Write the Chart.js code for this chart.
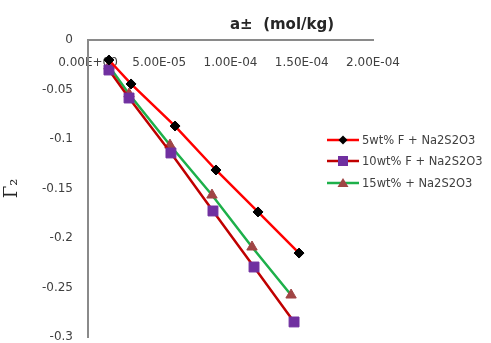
<!DOCTYPE html>
<html>
<head>
<meta charset="utf-8">
<script src="https://cdn.jsdelivr.net/npm/chart.js@4.4.1/dist/chart.umd.min.js"></script>
<style>
  html, body { margin:0; padding:0; background:#fff; }
  #wrap { position:relative; width:491px; height:343px; }
  #c { position:absolute; left:0; top:0; }
  #xtitle { position:absolute; left:230px; top:15px; font:bold 15px "DejaVu Sans", sans-serif; color:#262626; white-space:pre; }
  #legend { position:absolute; left:327px; top:129px; font:11.5px "DejaVu Sans", sans-serif; color:#404040; }
  .row { height:21.5px; display:flex; align-items:center; white-space:pre; }
  .row svg { margin-right:3px; }
</style>
</head>
<body>
<div id="wrap">
  <canvas id="c" width="491" height="343"></canvas>
  <div id="xtitle">a±  (mol/kg)</div>
  <div id="legend"></div>
</div>
<script>
// ---- data ----
const seriesNames = ['5wt% F + Na2S2O3', '10wt% F + Na2S2O3', '15wt% + Na2S2O3'];
const s1x = [1.47e-5, 3.02e-5, 6.11e-5, 8.98e-5, 1.193e-4, 1.481e-4];
const s1y = [-0.0202, -0.0444, -0.0869, -0.1313, -0.1737, -0.2152];
const s2x = [1.47e-5, 2.88e-5, 5.82e-5, 8.77e-5, 1.165e-4, 1.446e-4];
const s2y = [-0.0303, -0.0586, -0.1141, -0.1727, -0.2293, -0.2848];
const s3x = [1.47e-5, 2.88e-5, 5.75e-5, 8.70e-5, 1.151e-4, 1.425e-4];
const s3y = [-0.0263, -0.0545, -0.1061, -0.1566, -0.2091, -0.2576];
const xTickValues = [0, 5e-5, 1e-4, 1.5e-4, 2e-4];
const xTickLabels = ['0.00E+00', '5.00E-05', '1.00E-04', '1.50E-04', '2.00E-04'];
const yTickValues = [0, -0.05, -0.1, -0.15, -0.2, -0.25, -0.3];
const yTickLabels = ['0', '-0.05', '-0.1', '-0.15', '-0.2', '-0.25', '-0.3'];

const pts = (xs, ys) => xs.map((x, i) => ({x: x, y: ys[i]}));

const styles = [
  {line:'#FF0000', fill:'#000000', shape:'rectRot', r:5},
  {line:'#C00000', fill:'#7030A0', shape:'rect', r:7},
  {line:'#1DB04A', fill:'#A04545', shape:'triangle', r:6}
];
const seriesData = [pts(s1x, s1y), pts(s2x, s2y), pts(s3x, s3y)];

const datasets = seriesData.map((d, i) => ({
  label: seriesNames[i],
  data: d,
  showLine: true,
  tension: 0,
  borderColor: styles[i].line,
  borderWidth: 2.5,
  pointStyle: styles[i].shape,
  pointRadius: styles[i].r,
  pointHoverRadius: styles[i].r,
  pointBackgroundColor: styles[i].fill,
  pointBorderColor: styles[i].fill,
  pointBorderWidth: 1
}));

const tickFont = {family: '"DejaVu Sans", sans-serif', size: 12};

new Chart(document.getElementById('c'), {
  type: 'scatter',
  data: { datasets: datasets },
  options: {
    responsive: false,
    animation: false,
    events: [],
    layout: { autoPadding: false, padding: { left: 0, top: 40, right: 118, bottom: 6 } },
    plugins: { legend: { display: false }, tooltip: { enabled: false } },
    scales: {
      x: {
        type: 'linear',
        position: { y: 0 },
        min: 0, max: 2e-4,
        afterBuildTicks: s => { s.ticks = xTickValues.map(v => ({value: v})); },
        afterFit: s => { s.height = 0; },
        grid: { display: false, drawTicks: false },
        border: { display: true, color: '#8a8a8a', width: 2 },
        ticks: {
          padding: 16,
          color: '#404040',
          font: tickFont,
          maxRotation: 0,
          autoSkip: false,
          callback: (v, i) => xTickLabels[i]
        }
      },
      y: {
        type: 'linear',
        min: -0.3, max: 0,
        afterBuildTicks: s => { s.ticks = yTickValues.slice().reverse().map(v => ({value: v})); },
        afterFit: s => { s.width = 88; s.paddingTop = 0; s.paddingBottom = 0; },
        grid: { display: false, drawTicks: false },
        border: { display: true, color: '#8a8a8a', width: 2 },
        ticks: {
          padding: 15,
          color: '#404040',
          font: tickFont,
          autoSkip: false,
          callback: (v) => { const k = yTickValues.findIndex(t => Math.abs(t - v) < 1e-9); return k >= 0 ? yTickLabels[k] : ''; }
        },
        title: {
          display: true,
          text: 'Γ₂',
          color: '#262626',
          font: { family: '"DejaVu Serif", "Liberation Serif", serif', size: 18 },
          padding: { top: 2, bottom: 2 }
        }
      }
    }
  }
});

// HTML legend built from the dataset names and styles
const leg = document.getElementById('legend');
seriesNames.forEach((name, i) => {
  const st = styles[i];
  let marker = '';
  if (st.shape === 'rectRot') marker = '<polygon points="16,1.5 20.5,6 16,10.5 11.5,6" fill="' + st.fill + '"/>';
  else if (st.shape === 'rect') marker = '<rect x="11" y="1" width="10" height="10" fill="' + st.fill + '"/>';
  else marker = '<polygon points="16,1 21.5,10 10.5,10" fill="' + st.fill + '"/>';
  const row = document.createElement('div');
  row.className = 'row';
  row.innerHTML = '<svg width="32" height="12"><line x1="0" y1="6" x2="32" y2="6" stroke="' + st.line + '" stroke-width="2.5"/>' + marker + '</svg><span>' + name + '</span>';
  leg.appendChild(row);
});
</script>
</body>
</html>
